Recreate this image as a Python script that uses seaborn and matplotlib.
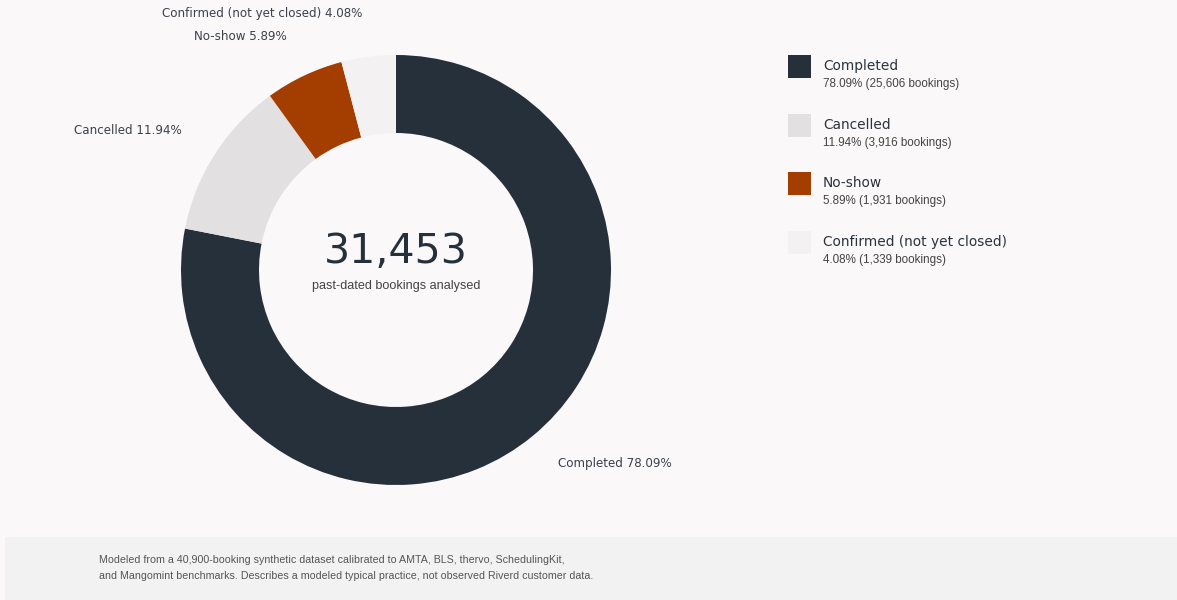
import matplotlib
matplotlib.use("Agg")
import matplotlib.pyplot as plt
from matplotlib.patches import Rectangle
import seaborn as sns

# Booking outcome data
categories = ["Completed", "Cancelled", "No-show", "Confirmed (not yet closed)"]
bookings = [25606, 3916, 1931, 1339]
colors = ["#26303b", "#e2e0e1", "#a33d00", "#f3f1f2"]
total_analysed = 31453
center_caption = "past-dated bookings analysed"
footnote = ("Modeled from a 40,900-booking synthetic dataset calibrated to AMTA, BLS, thervo, SchedulingKit,\n"
            "and Mangomint benchmarks. Describes a modeled typical practice, not observed Riverd customer data.")

sns.set_theme(style="white")
plt.rcParams["font.family"] = ["DejaVu Sans"]

BG = "#faf8f9"
W, H = 1177, 600
fig = plt.figure(figsize=(W / 100, H / 100), dpi=100, facecolor=BG)

# One axes spanning the whole figure, in pixel units (y up)
ax = fig.add_axes([0, 0, 1, 1])
ax.set_facecolor(BG)

def py(y):
    return H - y

total = sum(bookings)
pcts = [b / total * 100 for b in bookings]

cx, cy, R = 396, py(270), 215
ax.pie(bookings, colors=colors, startangle=90, counterclock=False,
       center=(cx, cy), radius=R, frame=True,
       wedgeprops=dict(width=78, linewidth=0))
ax.set_xlim(0, W)
ax.set_ylim(0, H)
ax.set_aspect("equal")
ax.axis("off")

label_color = "#3b4149"
lab_fs = 8.6
# Outside slice labels
ax.text(558, py(463), f"{categories[0]} {pcts[0]:.2f}%", ha="left", va="center",
        fontsize=lab_fs, color=label_color)
ax.text(182, py(130), f"{categories[1]} {pcts[1]:.2f}%", ha="right", va="center",
        fontsize=lab_fs, color=label_color)
ax.text(240, py(36), f"{categories[2]} {pcts[2]:.2f}%", ha="center", va="center",
        fontsize=lab_fs, color=label_color)
ax.text(262, py(14), f"{categories[3]} {pcts[3]:.2f}%", ha="center", va="center",
        fontsize=lab_fs, color=label_color)

# Centre figure
ax.text(cx, py(252), f"{total_analysed:,}", ha="center", va="center",
        fontsize=29.6, color="#26303b")
ax.text(cx, py(286), center_caption, ha="center", va="center",
        fontsize=9.1, color="#444444", family="Liberation Sans")

# Legend
leg_y = [66, 125, 183, 242]
for name, val, pct, col, y in zip(categories, bookings, pcts, colors, leg_y):
    ax.add_patch(Rectangle((788, py(y + 12)), 23, 23, facecolor=col,
                           edgecolor="none"))
    ax.text(823, py(y), name, ha="left", va="center", fontsize=9.95,
            color="#2b333d")
    ax.text(823, py(y + 18), f"{pct:.2f}% ({val:,} bookings)", ha="left",
            va="center", fontsize=8.4, color="#444444", family="Liberation Sans")

# Footer band with source note
ax.add_patch(Rectangle((5, 0), W - 5, H - 537, facecolor="#f2f2f2",
                       edgecolor="none"))
ax.text(99, py(568), footnote, ha="left", va="center", fontsize=7.7,
        color="#555555", family="Liberation Sans", linespacing=1.65)

fig.savefig("out.png", dpi=100, facecolor=BG)
